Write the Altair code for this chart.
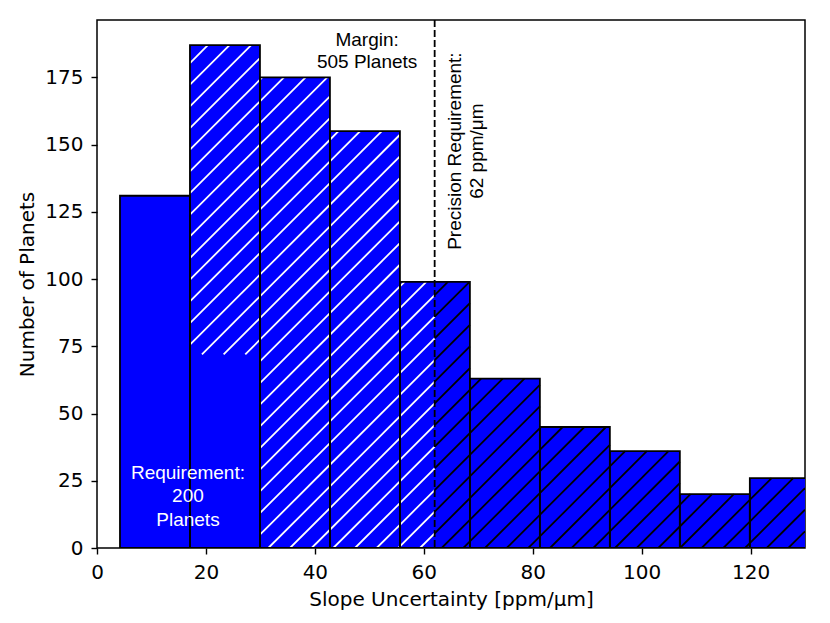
import math
import altair as alt
import pandas as pd

# ---- data ----
bin_edges = [4.22, 17.07, 29.92, 42.77, 55.62, 68.47, 81.32, 94.17, 107.02, 119.87, 132.72]
counts = [131, 187, 175, 155, 99, 63, 45, 36, 20, 26]
requirement_level_bar2 = 72      # top of the un-hatched "requirement" part in bar 2
precision_requirement = 62       # ppm/um
x_ticks = [0, 20, 40, 60, 80, 100, 120]
y_ticks = [0, 25, 50, 75, 100, 125, 150, 175]
X_MAX = 130
Y_MAX = 196.35

annot_margin = ["Margin:", "505 Planets"]
annot_precision = ["Precision Requirement:", "62 ppm/\u03bcm"]
annot_requirement = ["Requirement:", "200", "Planets"]

W, H = 708, 528
BLUE = "#0000ff"

bars = pd.DataFrame({"x0": bin_edges[:-1], "x1": bin_edges[1:], "count": counts})

# hatch regions (x from, x to, y from, y to) derived from the bars
white_regions = [
    (bin_edges[1], bin_edges[2], requirement_level_bar2, counts[1]),
    (bin_edges[2], bin_edges[3], 0, counts[2]),
    (bin_edges[3], bin_edges[4], 0, counts[3]),
    (bin_edges[4], precision_requirement, 0, counts[4]),
]
black_regions = [(precision_requirement, bin_edges[5], 0, counts[4])] + [
    (bin_edges[i], bin_edges[i + 1], 0, counts[i]) for i in range(5, len(counts))
]

SPACING = 21.667  # hatch spacing in pixels
PHASE = 6.0


def hatch(regions):
    rows = []
    for xa, xb, ya, yb in regions:
        pxa = xa / X_MAX * W
        pxb = min(xb, X_MAX) / X_MAX * W
        pyt = H - yb / Y_MAX * H
        pyb = H - ya / Y_MAX * H
        kmin = math.floor((pxa + pyt - PHASE) / SPACING) - 1
        kmax = math.ceil((pxb + pyb - PHASE) / SPACING) + 1
        for k in range(kmin, kmax + 1):
            c = PHASE + k * SPACING
            lo = max(pxa, c - pyb)
            hi = min(pxb, c - pyt)
            if hi - lo > 0.3:
                rows.append({
                    "x": lo / W * X_MAX, "y": (H - (c - lo)) / H * Y_MAX,
                    "x2": hi / W * X_MAX, "y2": (H - (c - hi)) / H * Y_MAX,
                })
    return pd.DataFrame(rows)


white_hatch = hatch(white_regions)
black_hatch = hatch(black_regions)

xs = alt.Scale(domain=[0, X_MAX], nice=False, zero=False)
ys = alt.Scale(domain=[0, Y_MAX], nice=False)

x_enc = alt.X("x0:Q", scale=xs, title="Slope Uncertainty [ppm/\u03bcm]",
              axis=alt.Axis(values=x_ticks, titleY=51, titleBaseline="middle", labelPadding=8))
y_enc = alt.Y("count:Q", scale=ys, title="Number of Planets",
              axis=alt.Axis(values=y_ticks, titleX=-70, titleY=H / 2,
                            titleBaseline="middle", titleAngle=270, labelPadding=8))

fill_bars = alt.Chart(bars).mark_rect(color=BLUE, clip=True).encode(
    x=x_enc, x2="x1:Q", y=y_enc, y2=alt.datum(0)
)

outline_bars = alt.Chart(bars).mark_rect(
    fillOpacity=0, stroke="black", strokeWidth=1.8, clip=True
).encode(x=alt.X("x0:Q", scale=xs), x2="x1:Q",
         y=alt.Y("count:Q", scale=ys), y2=alt.datum(0))


def hatch_layer(df, color):
    return alt.Chart(df).mark_rule(color=color, strokeWidth=1.8, strokeCap="butt", clip=True).encode(
        x=alt.X("x:Q", scale=xs), y=alt.Y("y:Q", scale=ys), x2="x2:Q", y2="y2:Q"
    )


dashed = alt.Chart(pd.DataFrame({"x": [precision_requirement]})).mark_rule(
    color="black", strokeWidth=1.8, strokeDash=[7, 3]
).encode(x=alt.X("x:Q", scale=xs))


def text_layer(lines, x, y, color, angle=0, lh=23):
    df = pd.DataFrame({"x": [x], "y": [y], "t": ["\n".join(lines)]})
    return alt.Chart(df).mark_text(
        font="Liberation Sans", fontSize=19, color=color, lineBreak="\n",
        lineHeight=lh, align="center", baseline="middle", angle=angle
    ).encode(x=alt.X("x:Q", scale=xs), y=alt.Y("y:Q", scale=ys), text="t:N")


# anchors are the positions of the first line of each annotation
t_margin = text_layer(annot_margin, 49.6, 188.9, "black", lh=22)
t_prec = text_layer(annot_precision, 65.7, 147.6, "black", angle=270, lh=22)
t_req = text_layer(annot_requirement, 16.7, 27.9, "white", lh=23.5)

chart = alt.layer(
    fill_bars, hatch_layer(white_hatch, "white"), hatch_layer(black_hatch, "black"),
    outline_bars, dashed, t_margin, t_prec, t_req
).properties(
    width=W, height=H,
    autosize=alt.AutoSizeParams(type="none"),
    padding={"left": 89, "top": 12, "right": 15, "bottom": 66},
).configure_view(
    stroke="black", strokeWidth=1.5
).configure_axis(
    domain=False, grid=False, ticks=True, tickColor="black", tickWidth=1.4, tickSize=6,
    labelFont="DejaVu Sans", labelFontSize=20, labelColor="black",
    titleFont="DejaVu Sans", titleFontSize=20, titleColor="black", titleFontWeight="normal",
    labelFlush=False, labelOverlap=False
)

chart.save("out.html", embed_options={"renderer": "svg", "actions": False})
